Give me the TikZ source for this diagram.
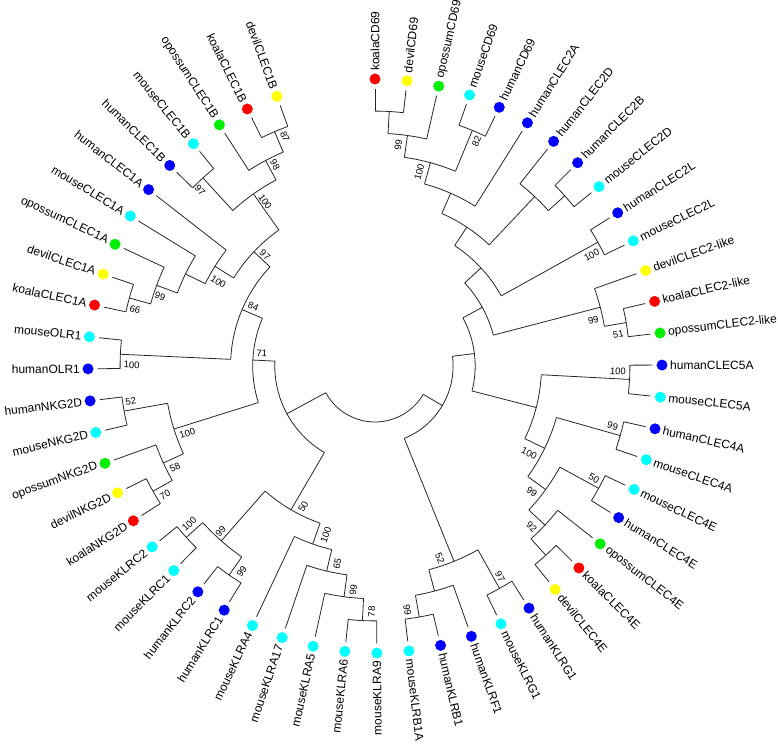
\documentclass[tikz,border=0pt]{standalone}
\usepackage{fontspec}
\setmainfont{Liberation Sans}
\usepackage{tikz}
\definecolor{koala}{HTML}{FF0000}
\definecolor{devil}{HTML}{FFFF00}
\definecolor{opossum}{HTML}{00EE00}
\definecolor{mouse}{HTML}{00FFFF}
\definecolor{human}{HTML}{0000FF}

% one clade: name, level, first child angle, last child angle, parent level
\newcommand{\clade}[5]{%
  \pgfmathsetmacro\cladeR{277-22.1*#2}%
  \pgfmathsetmacro\cladeP{277-22.1*#5}%
  \pgfmathsetmacro\cladeM{(#3+#4)/2}%
  \draw[branch] (#3:\cladeR pt) arc[start angle=#3,end angle=#4,radius=\cladeR pt];
  \coordinate (#1) at (\cladeM:\cladeR pt);
  \draw[branch] (#1) -- (\cladeM:\cladeP pt);
}

\begin{document}
\begin{tikzpicture}[x=1pt,y=1pt,
  branch/.style={line width=0.8pt,black!85},
  leafdot/.style={circle,fill=#1,inner sep=0pt,minimum size=11pt},
  leaflabel/.style={inner sep=0pt,font=\fontsize{12}{14}\selectfont},
  boot/.style={inner sep=0pt,font=\fontsize{9.5}{11}\selectfont}
]
\useasboundingbox (-375,-378) rectangle (403,366);

% root
\draw[branch] (-30.421:56pt) arc[start angle=-30.421,end angle=-151.544,radius=56pt];
\coordinate (root) at (-90.98:56pt);

% CD69 / CLEC2
\clade{cd1}{1}{90}{83.585}{2}
\clade{cd2}{2}{86.792}{77.170}{3}
\clade{cd3}{1}{70.755}{64.340}{3}
\clade{cd4}{3}{81.981}{67.547}{4}
\clade{c2a}{4}{74.764}{57.925}{5}
\clade{c2d1}{1}{45.094}{38.679}{2}
\clade{c2d2}{2}{51.509}{41.887}{5}
\clade{c2b}{5}{66.344}{46.698}{6}
\clade{c2l}{1}{32.264}{25.849}{6}
\clade{c2c}{6}{56.521}{29.057}{7}
\clade{lk1}{1}{13.019}{6.604}{2}
\clade{lk2}{2}{19.434}{9.812}{7}
\clade{na}{7}{42.789}{14.623}{8}
% CLEC5A / CLEC4
\clade{c5}{1}{0.189}{-6.226}{5}
\clade{c4a}{1}{-12.642}{-19.057}{4}
\clade{c4e1}{1}{-25.472}{-31.887}{3}
\clade{c4e0}{1}{-44.717}{-51.132}{2}
\clade{c4e2}{2}{-38.302}{-47.925}{3}
\clade{c4e3}{3}{-28.680}{-43.113}{4}
\clade{c4b}{4}{-15.850}{-35.897}{5}
\clade{c45}{5}{-3.019}{-25.873}{8}
\clade{nu}{8}{28.706}{-14.446}{9}
% KLRB1 / KLRF1 / KLRG1
\clade{kb1}{1}{-76.792}{-83.208}{2}
\clade{kb2}{2}{-70.377}{-80.000}{3}
\clade{kg1}{1}{-57.547}{-63.962}{3}
\clade{kg}{3}{-60.755}{-75.189}{9}
\clade{nr}{9}{7.130}{-67.972}{10}
% KLRA / KLRC
\clade{ka1}{1}{-89.623}{-96.038}{2}
\clade{ka2}{2}{-92.831}{-102.453}{3}
\clade{ka3}{3}{-97.642}{-108.868}{4}
\clade{ka4}{4}{-103.255}{-115.283}{5}
\clade{kc1}{1}{-121.698}{-128.113}{2}
\clade{kc2}{1}{-134.528}{-140.943}{2}
\clade{kc}{2}{-124.906}{-137.736}{5}
\clade{kk}{5}{-109.269}{-131.321}{8}
% NKG2D / OLR1 / CLEC1
\clade{nk0}{1}{-147.358}{-153.774}{2}
\clade{nk1}{2}{-150.566}{-160.189}{3}
\clade{nk2}{1}{-166.604}{-173.019}{3}
\clade{nk}{3}{-155.377}{-169.811}{7}
\clade{ol}{1}{-179.434}{-185.849}{6}
\clade{ca0}{1}{-192.264}{-198.679}{2}
\clade{ca1}{2}{-195.472}{-205.094}{3}
\clade{ca2}{3}{-200.283}{-211.509}{4}
\clade{ca3}{4}{-205.896}{-217.924}{5}
\clade{cb0}{1}{-224.340}{-230.755}{3}
\clade{cb1}{1}{-243.585}{-250}{2}
\clade{cb2}{2}{-237.170}{-246.792}{3}
\clade{cb}{3}{-227.548}{-241.981}{5}
\clade{c1}{5}{-211.910}{-234.765}{6}
\clade{n84}{6}{-182.642}{-223.338}{7}
\clade{n71}{7}{-162.594}{-202.990}{8}
\clade{nl}{8}{-120.295}{-182.792}{10}

% leaves
\foreach \i/\lab/\sp/\h in {
  0/koalaCD69/koala/1, 1/devilCD69/devil/1, 2/opossumCD69/opossum/2,
  3/mouseCD69/mouse/1, 4/humanCD69/human/1, 5/humanCLEC2A/human/4,
  6/humanCLEC2D/human/2, 7/humanCLEC2B/human/1, 8/mouseCLEC2D/mouse/1,
  9/humanCLEC2L/human/1, 10/mouseCLEC2L/mouse/1, 11/devilCLEC2-like/devil/2,
  12/koalaCLEC2-like/koala/1, 13/opossumCLEC2-like/opossum/1,
  14/humanCLEC5A/human/1, 15/mouseCLEC5A/mouse/1, 16/humanCLEC4A/human/1,
  17/mouseCLEC4A/mouse/1, 18/mouseCLEC4E/mouse/1, 19/humanCLEC4E/human/1,
  20/opossumCLEC4E/opossum/2, 21/koalaCLEC4E/koala/1, 22/devilCLEC4E/devil/1,
  23/humanKLRG1/human/1, 24/mouseKLRG1/mouse/1, 25/humanKLRF1/human/2,
  26/humanKLRB1/human/1, 27/mouseKLRB1A/mouse/1, 28/mouseKLRA9/mouse/1,
  29/mouseKLRA6/mouse/1, 30/mouseKLRA5/mouse/2, 31/mouseKLRA17/mouse/3,
  32/mouseKLRA4/mouse/4, 33/humanKLRC1/human/1, 34/humanKLRC2/human/1,
  35/mouseKLRC1/mouse/1, 36/mouseKLRC2/mouse/1, 37/koalaNKG2D/koala/1,
  38/devilNKG2D/devil/1, 39/opossumNKG2D/opossum/2, 40/mouseNKG2D/mouse/1,
  41/humanNKG2D/human/1, 42/humanOLR1/human/1, 43/mouseOLR1/mouse/1,
  44/koalaCLEC1A/koala/1, 45/devilCLEC1A/devil/1, 46/opossumCLEC1A/opossum/2,
  47/mouseCLEC1A/mouse/3, 48/humanCLEC1A/human/4, 49/humanCLEC1B/human/1,
  50/mouseCLEC1B/mouse/1, 51/opossumCLEC1B/opossum/2, 52/koalaCLEC1B/koala/1,
  53/devilCLEC1B/devil/1}{
  \pgfmathsetmacro\ang{90-340/53*\i}
  \pgfmathsetmacro\rp{277-22.1*\h}
  \node[leafdot=\sp] (\lab) at (\ang:287pt) {};
  \draw[branch,shorten >=4pt] (\ang:\rp pt) -- (\lab);
  \ifnum\i>27
    \node[leaflabel,anchor=east,rotate=\ang+180] (t\i) at (\ang:295pt) {\lab};
  \else
    \node[leaflabel,anchor=west,rotate=\ang] (t\i) at (\ang:295pt) {\lab};
  \fi
}

% bootstrap values
\foreach \x/\y/\r/\v [count=\n] in {
  -90/229.3/-66.8/87, -100/201/-62/98, -175/176/-47.5/97, -110/164.3/-54.8/100,
  -110/111/-43.3/97, -156.7/84.3/-31.9/100, -215/69.3/-20.3/99, -240/56.7/-15.5/66,
  -121.7/59.3/-23/84, -243.3/1/-2.6/100, -113.3/12.7/-2.8/71, -244.3/-35.7/10.2/52,
  -187.7/-67.3/17.4/100, -200/-101.3/24.6/58, -210/-129/29.4/70,
  -185.7/-158/42.3/100, -154.3/-165.7/48.7/99, -133.3/-205.7/55.1/99,
  -71.7/-140.7/59.7/50, -49/-169/70.7/100, -37.7/-197.3/76.7/65,
  -21.7/-224/82.4/99, -3.3/-245.7/87.2/78, 32.3/-244/-80/99,
  65/-192.3/-68/52, 125/-210.7/-60.8/97, 156.7/-160.7/-43.1/92,
  156.7/-125.7/-35.9/99, 154.3/-87.3/-25.9/100, 219/-112.3/-28.7/50,
  237.7/-60/-15.9/99, 243/-5.3/-3/100, 243.3/31.7/9.8/51, 218.3/46/14.6/99,
  216.7/111/29.1/100, 101.7/224.3/67.5/82, 23.3/221/82/99, 44.3/194.3/74.8/100}
  \node[boot,rotate=\r] (bs\n) at (\x,\y) {\v};
\end{tikzpicture}
\end{document}
